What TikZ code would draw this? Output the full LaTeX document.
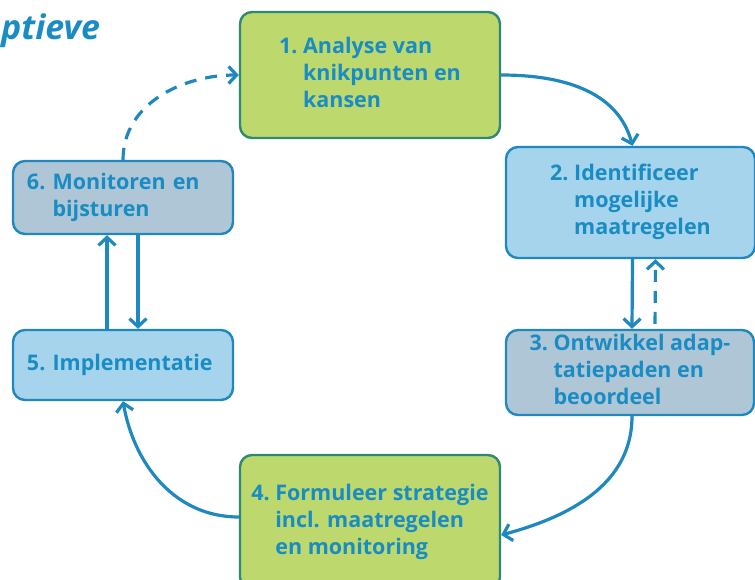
\documentclass[tikz,border=0pt]{standalone}
\usepackage{fontspec}
\setmainfont{Open Sans}
\usetikzlibrary{arrows.meta}
\definecolor{tekst}{HTML}{1A8CC4}
\definecolor{rand}{HTML}{1E88BF}
\definecolor{groenf}{HTML}{BDD86D}
\definecolor{groenr}{HTML}{2E8A72}
\definecolor{blauwf}{HTML}{A6D4EC}
\definecolor{grijsf}{HTML}{AFC6D6}
\tikzset{
  stap/.style={draw=rand,line width=2.4pt,rounded corners=12pt,text=tekst,
    font=\fontsize{21.5}{27}\selectfont\bfseries,inner sep=0pt},
  groen/.style={stap,fill=groenf,draw=groenr},
  blauw/.style={stap,fill=blauwf},
  grijs/.style={stap,fill=grijsf},
  pijl/.style={-{Straight Barb[length=8pt,width=17pt]},rand,line width=3.2pt},
  pijls/.style={pijl,dash pattern=on 12pt off 9pt},
}
\newcommand{\stp}[2]{#1\ \begin{tabular}[t]{@{}l@{}}#2\end{tabular}}

\begin{document}
\begin{tikzpicture}[x=1pt,y=-1pt]
  \useasboundingbox (0,0) rectangle (755,580);
  \node[anchor=base west,inner sep=0pt,text=tekst,font=\fontsize{34}{36}\selectfont\bfseries\itshape] (titel) at (1,40) {ptieve};
  \node[groen,minimum width=260pt,minimum height=126pt] (ana) at (370,75) {\stp{1.}{Analyse van\\knikpunten en\\kansen}};
  \node[blauw,minimum width=249pt,minimum height=111pt] (iden) at (630.5,202.5) {\stp{2.}{Identificeer\\mogelijke\\maatregelen}};
  \node[grijs,minimum width=248pt,minimum height=85pt] (ont) at (630,372.5) {\stp{3.}{Ontwikkel adap-\\tatiepaden en\\beoordeel}};
  \node[groen,minimum width=260pt,minimum height=134pt] (form) at (370,522) {\stp{4.}{Formuleer strategie\\incl. maatregelen\\en monitoring}};
  \node[blauw,minimum width=220pt,minimum height=70pt,text width=192pt] (impl) at (123,365) {\stp{5.}{Implementatie}};
  \node[grijs,minimum width=220pt,minimum height=73pt,text width=192pt] (mon) at (123,197.5) {\stp{6.}{Monitoren en\\bijsturen}};
  \draw[pijls] (mon.north) to[out=90,in=180] (ana.west);
  \draw[pijl] (ana.east) to[out=0,in=105] ([xshift=2pt]iden.north);
  \draw[pijl] ([xshift=2pt]iden.south) -- ([xshift=2pt]ont.north);
  \draw[pijls,shorten <=5pt] ([xshift=25pt]ont.north) -- ([xshift=25pt]iden.south);
  \draw[pijl] ([xshift=2pt]ont.south) to[out=-90,in=15] ([yshift=-13pt]form.east);
  \draw[pijl] ([yshift=5pt]form.west) to[out=180,in=-80] (impl.south);
  \draw[pijl] ([xshift=-16pt]impl.north) -- ([xshift=-16pt]mon.south);
  \draw[pijl] ([xshift=15pt]mon.south) -- ([xshift=15pt]impl.north);
\end{tikzpicture}
\end{document}
